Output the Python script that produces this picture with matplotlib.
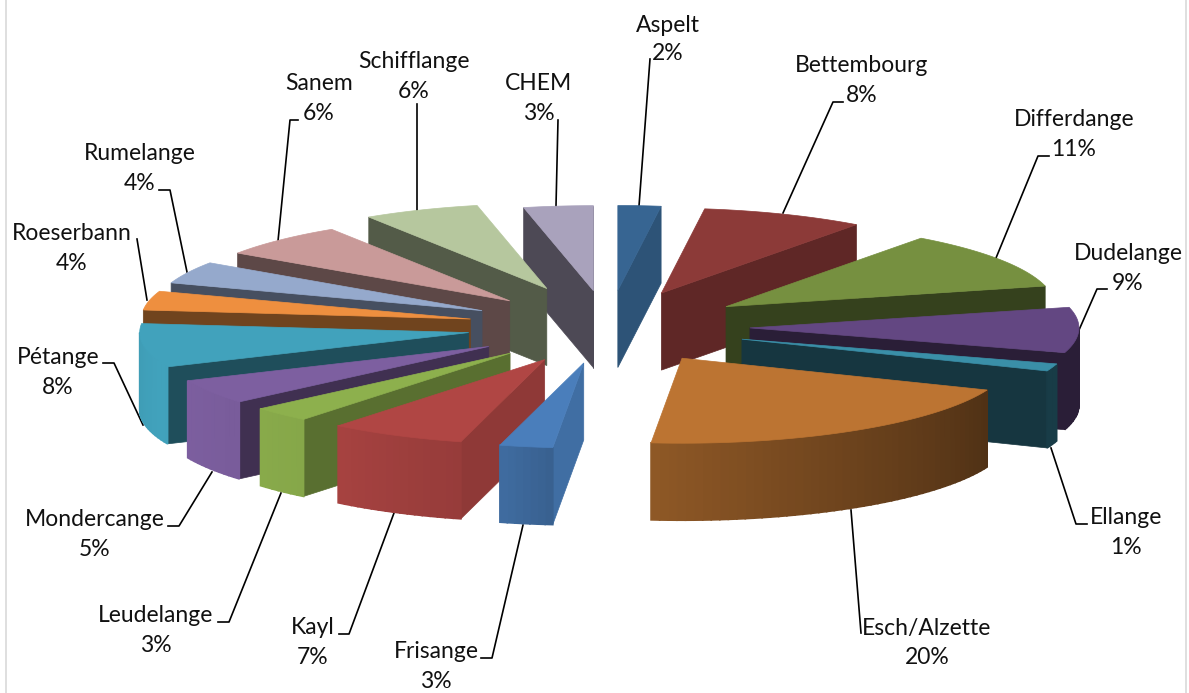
import numpy as np
import matplotlib
matplotlib.use("Agg")
import matplotlib.pyplot as plt

communes = ["Aspelt", "Bettembourg", "Differdange", "Dudelange", "Ellange", "Esch/Alzette",
            "Frisange", "Kayl", "Leudelange", "Mondercange", "Pétange", "Roeserbann",
            "Rumelange", "Sanem", "Schifflange", "CHEM"]
# shares, the labels show them rounded
shares = [2.1, 8.0, 11.0, 8.6, 1.4, 20.4, 2.6, 6.7, 2.9, 4.7, 8.3, 3.6, 4.2, 6.4, 5.7, 3.4]

colors = ["#376592", "#8C3A38", "#769040", "#634782", "#3A8FA8", "#BC7432",
          "#4A7EBB", "#B04644", "#8DB04D", "#7D5FA0", "#41A2BC", "#EE8F3F",
          "#95A9CC", "#C99A99", "#B6C79E", "#A9A2BC"]

explode = [0.43] * 16
explode[14] = 0.49

# label centre x, name y, percent y, then the leader path from label to slice
label_layout = [
    (668, 25, 53, [(650, 59), (639, 206)]),
    (862, 66, 96, [(843, 102), (833, 102), (783, 213)]),
    (1074, 120, 150, [(1049, 156), (1038, 156), (996, 258)]),
    (1128, 253, 283, [(1107, 289), (1097, 289), (1079, 330)]),
    (1126, 518, 548, [(1087, 524), (1076, 524), (1051, 448)]),
    (927, 628, 658, [(861, 633), (851, 510)]),
    (436, 652, 681, [(481, 658), (492, 658), (523, 525)]),
    (313, 628, 658, [(339, 634), (349, 634), (394, 513)]),
    (156, 616, 645, [(218, 622), (229, 622), (281, 493)]),
    (95, 519, 550, [(168, 526), (179, 526), (212, 472)]),
    (58, 357, 387, [(103, 363), (114, 363), (143, 425)]),
    (72, 233, 263, [(137, 239), (147, 300)]),
    (140, 154, 184, [(159, 190), (170, 190), (187, 272)]),
    (319, 84, 114, [(298, 120), (290, 120), (278, 241)]),
    (414, 62, 91, [(417, 104), (417, 210)]),
    (539, 84, 114, [(558, 120), (556, 206)]),
]

# pie geometry in pixels, angles are clockwise from north
cx, cy = 608.5, 327
rx, ry = 329, 85
depth = 77


def shade(col, f):
    rgb = np.array(matplotlib.colors.to_rgb(col))
    return tuple(rgb * f)


def outer_shade(angle):
    return np.interp(angle, [90, 112, 148, 184, 194, 220, 250, 280],
                     [0.42, 0.42, 0.57, 0.75, 0.85, 0.95, 1.0, 0.95])


def cut_shade(angle):
    return np.interp(angle, [7, 36, 76, 108, 112, 184, 194, 220, 230, 248, 360],
                     [0.82, 0.68, 0.45, 0.42, 0.38, 0.88, 0.82, 0.62, 0.5, 0.48, 0.45])


def apex(mid, e):
    a = np.radians(mid)
    return cx + e * rx * np.sin(a), cy - e * ry * np.cos(a)


def rim(x0, y0, angle):
    a = np.radians(angle)
    return x0 + rx * np.sin(a), y0 - ry * np.cos(a)


plt.rcParams["font.family"] = ["Lato", "DejaVu Sans"]

fig = plt.figure(figsize=(11.89, 6.93), dpi=100)
ax = fig.add_axes([0, 0, 1, 1])
ax.set_xlim(0, 1189)
ax.set_ylim(693, 0)
ax.axis("off")

# the thin frame of the original screenshot
ax.plot([5.5, 5.5], [0, 693], color="#D9D9D9", lw=1.2)
ax.plot([1186, 1186], [0, 693], color="#D9D9D9", lw=1.2)

ends = np.cumsum(shares) * 3.6
starts = ends - np.array(shares) * 3.6
mids = (starts + ends) / 2

# back wedges first so the front ones cover them
for i in np.argsort(-np.cos(np.radians(mids))):
    x0, y0 = apex(mids[i], explode[i])
    col = colors[i]

    # flat cut faces
    for angle, visible in ((ends[i], np.sin(np.radians(ends[i])) > 0),
                           (starts[i], np.sin(np.radians(starts[i])) < 0)):
        if visible:
            xr, yr = rim(x0, y0, angle)
            c = shade(col, cut_shade(angle))
            ax.fill([x0, xr, xr, x0], [y0, yr, yr + depth, y0 + depth],
                    color=c, lw=0.5, zorder=2)

    # outer curved side, only the part that faces the viewer
    a1 = max(starts[i], 90)
    a2 = min(ends[i], 270)
    if a2 > a1:
        steps = np.linspace(a1, a2, int((a2 - a1) / 1.5) + 2)
        for s1, s2 in zip(steps[:-1], steps[1:]):
            xa, ya = rim(x0, y0, s1)
            xb, yb = rim(x0, y0, s2)
            c = shade(col, outer_shade((s1 + s2) / 2))
            ax.fill([xa, xb, xb, xa], [ya, yb, yb + depth, ya + depth],
                    color=c, lw=1.2, zorder=2)

    # top surface
    arc = np.linspace(starts[i], ends[i], 40)
    xs, ys = rim(x0, y0, arc)
    ax.fill(np.r_[x0, xs], np.r_[y0, ys], color=col, lw=0.5, zorder=2)

for i, name in enumerate(communes):
    tx, name_y, pct_y, path = label_layout[i]
    ax.text(tx, name_y, name, ha="center", va="center", fontsize=16.5, color="#111111")
    ax.text(tx, pct_y, f"{shares[i]:.0f}%", ha="center", va="center", fontsize=16.5, color="#111111")
    ax.plot([p[0] for p in path], [p[1] for p in path], color="black", lw=1.2, zorder=1)

fig.savefig("out.png", dpi=100)
